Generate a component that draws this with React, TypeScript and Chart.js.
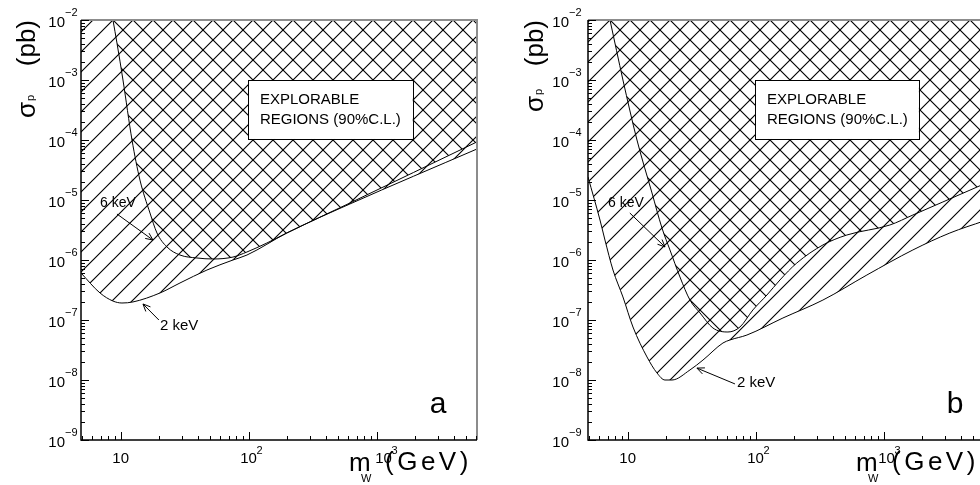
import React, { useEffect, useRef } from 'react';
import { Chart, registerables } from 'chart.js';

Chart.register(...registerables);

const FONT = '"Liberation Sans", Arial, sans-serif';

// ---- Panel a data (m_W in GeV, sigma_p in pb) ----
const massA6 = [8.71, 9.36, 10.43, 12.27, 14.16, 16.96, 19.23, 23.02, 29.1, 39.5, 52.7, 75.5, 97.1, 139, 199, 619, 6100];
const sigmaA6 = [1e-2, 4.14e-3, 1e-3, 1e-4, 2.15e-5, 6.07e-6, 2.82e-6, 1.65e-6, 1.21e-6, 1.08e-6, 1.04e-6, 1.12e-6, 1.36e-6, 1.92e-6, 2.82e-6, 8.9e-6, 9.3e-5];
const massA2 = [4.9, 6.9, 8.71, 10.24, 12.49, 20.3, 29.1, 47.3, 75.5, 97.1, 199, 619, 6100];
const sigmaA2 = [6.07e-7, 2.82e-7, 2.07e-7, 1.92e-7, 2.0e-7, 2.82e-7, 4.14e-7, 6.81e-7, 1.0e-6, 1.21e-6, 2.82e-6, 8.58e-6, 7.08e-5];

// ---- Panel b data ----
const massB6 = [7.28, 9.19, 11.83, 15.5, 18.55, 21.42, 25.64, 30.7, 36.8, 46.4, 60.8, 75.5, 95.3, 122.7, 155, 210, 336, 517, 1121, 1696, 2910, 6100];
const sigmaB6 = [1e-2, 1e-3, 1e-4, 1.31e-5, 3.41e-6, 1.47e-6, 5.21e-7, 2.15e-7, 1.31e-7, 7.36e-8, 6.31e-8, 7.64e-8, 1.47e-7, 2.61e-7, 4.64e-7, 8.91e-7, 1.78e-6, 2.61e-6, 3.83e-6, 5.62e-6, 9.27e-6, 1.85e-5];
const massB2 = [4.9, 6.08, 6.65, 7.68, 9.19, 11.01, 14.17, 16.96, 19.58, 22.2, 30.7, 38.8, 55.6, 63.0, 85.6, 163.6, 336, 741, 1696, 3300, 6100];
const sigmaB2 = [2.42e-5, 4.64e-6, 2.15e-6, 6.81e-7, 2.42e-7, 7.64e-8, 2.42e-8, 1.31e-8, 1.0e-8, 1.0e-8, 1.47e-8, 2.15e-8, 4.14e-8, 4.64e-8, 5.62e-8, 1.08e-7, 2.15e-7, 5.62e-7, 1.47e-6, 2.82e-6, 4.47e-6];

// ---- Axes ----
const X_MIN = 4.9;
const X_MAX = 6100;
const Y_MIN = 1e-9;
const Y_MAX = 1e-2;
const yTickExps = [-9, -8, -7, -6, -5, -4, -3, -2];
const xTickVals = [10, 100, 1000];
const xTickBase = ['10', '10', '10'];
const xTickExp = ['', '2', '3'];

const boxLines = ['EXPLORABLE', 'REGIONS (90%C.L.)'];
const label6 = '6 keV';
const label2 = '2 keV';

type P = [number, number];
type Panel = {
  m6: number[]; s6: number[]; m2: number[]; s2: number[];
  letter: string; letterAt: P;
  text6At: P; arrow6From: P; arrow6To: P;
  text2At: P; arrow2From: P; arrow2To: P;
  boxFrom: P; boxTo: P; boxText1: P; boxText2: P;
  hatchDx: number; labelGap: number; xLabelShift: number[];
  yTitleX: number; yTitleY: number; yTitleLen: number;
  canvasLeft: number; canvasWidth: number; yWidth: number; padRight: number;
};

const panelA: Panel = {
  m6: massA6, s6: sigmaA6, m2: massA2, s2: sigmaA2,
  letter: 'a', letterAt: [2610, 2.82e-9],
  text6At: [6.9, 7.64e-6], arrow6From: [9.36, 5.84e-6], arrow6To: [17.9, 2.15e-6],
  text2At: [20.3, 6.8e-8], arrow2From: [19.9, 1e-7], arrow2To: [14.95, 1.85e-7],
  boxFrom: [99, 1e-3], boxTo: [1920, 1.04e-4], boxText1: [122.7, 3.98e-4], boxText2: [122.7, 1.85e-4],
  hatchDx: 13, labelGap: 16, xLabelShift: [0, 0, 7],
  yTitleX: 35, yTitleY: 118, yTitleLen: 98,
  canvasLeft: 0, canvasWidth: 490, yWidth: 81, padRight: 13,
};

const panelB: Panel = {
  m6: massB6, s6: sigmaB6, m2: massB2, s2: sigmaB2,
  letter: 'b', letterAt: [3126, 2.82e-9],
  text6At: [7.02, 7.64e-6], arrow6From: [10.4, 6.07e-6], arrow6To: [19.6, 1.65e-6],
  text2At: [71.5, 7.6e-9], arrow2From: [69, 8.6e-9], arrow2To: [34.8, 1.58e-8],
  boxFrom: [99, 1e-3], boxTo: [1890, 1.04e-4], boxText1: [122.7, 3.98e-4], boxText2: [122.7, 1.85e-4],
  hatchDx: 0, labelGap: 19, xLabelShift: [0, 0, 3],
  yTitleX: 53, yTitleY: 112, yTitleLen: 92,
  canvasLeft: 490, canvasWidth: 510, yWidth: 98, padRight: 16,
};

function makePattern(ctx: CanvasRenderingContext2D, dir: '/' | '\\', dx: number) {
  const t = document.createElement('canvas');
  t.width = 20; t.height = 20;
  const c = t.getContext('2d')!;
  c.strokeStyle = '#000';
  c.lineWidth = 1.15;
  c.beginPath();
  for (const k of [-20, 0, 20]) {
    if (dir === '/') { c.moveTo(k - 2, 22); c.lineTo(k + 22, -2); }
    else { c.moveTo(k - 2, -2); c.lineTo(k + 22, 22); }
  }
  c.stroke();
  const p = ctx.createPattern(t, 'repeat')!;
  p.setTransform(new DOMMatrix([1, 0, 0, 1, dx, 0]));
  return p;
}

function arrow(ctx: CanvasRenderingContext2D, x1: number, y1: number, x2: number, y2: number) {
  ctx.beginPath();
  ctx.moveTo(x1, y1);
  ctx.lineTo(x2, y2);
  const a = Math.atan2(y2 - y1, x2 - x1);
  const L = 8, spread = 0.42;
  ctx.moveTo(x2 - L * Math.cos(a - spread), y2 - L * Math.sin(a - spread));
  ctx.lineTo(x2, y2);
  ctx.lineTo(x2 - L * Math.cos(a + spread), y2 - L * Math.sin(a + spread));
  ctx.stroke();
}

function overlayPlugin(panel: Panel) {
  return {
    id: 'overlay' + panel.letter,
    afterDraw(chart: any) {
      const { ctx, chartArea, scales } = chart;
      const { left, right, top, bottom } = chartArea;
      const x = scales.x, y = scales.y;
      const px = (v: number) => x.getPixelForValue(v);
      const py = (v: number) => y.getPixelForValue(v);
      ctx.save();

      // frame
      ctx.strokeStyle = '#8c8c8c';
      ctx.lineWidth = 2;
      ctx.beginPath();
      ctx.moveTo(left, top); ctx.lineTo(right, top); ctx.lineTo(right, bottom);
      ctx.stroke();
      ctx.strokeStyle = '#000';
      ctx.lineWidth = 1.5;
      ctx.beginPath();
      ctx.moveTo(left, top); ctx.lineTo(left, bottom); ctx.lineTo(right, bottom);
      ctx.stroke();

      // ticks
      ctx.lineWidth = 1;
      ctx.beginPath();
      for (let e = -9; e <= -2; e++) {
        for (let k = 1; k <= 9; k++) {
          const v = k * Math.pow(10, e);
          if (v > Y_MAX * 1.0001) continue;
          const yy = Math.round(py(v)) + 0.5;
          const len = k === 1 ? 8 : 4;
          ctx.moveTo(left, yy); ctx.lineTo(left + len, yy);
        }
      }
      for (let e = 0; e <= 3; e++) {
        for (let k = 1; k <= 9; k++) {
          const v = k * Math.pow(10, e);
          if (v < X_MIN || v > X_MAX) continue;
          const xx = Math.round(px(v)) + 0.5;
          const len = k === 1 ? 8 : 4;
          ctx.moveTo(xx, bottom); ctx.lineTo(xx, bottom - len);
        }
      }
      ctx.stroke();

      // tick labels
      ctx.fillStyle = '#000';
      ctx.textBaseline = 'alphabetic';
      for (const e of yTickExps) {
        const yy = py(Math.pow(10, e));
        ctx.font = `15px ${FONT}`;
        ctx.textAlign = 'right';
        ctx.fillText('10', left - panel.labelGap, yy + 7);
        ctx.font = `11px ${FONT}`;
        ctx.textAlign = 'left';
        ctx.fillText('\u2212' + Math.abs(e), left - panel.labelGap, yy - 4);
      }
      xTickVals.forEach((v, i) => {
        const xx = px(v) + panel.xLabelShift[i];
        ctx.font = `15px ${FONT}`;
        ctx.textAlign = 'center';
        ctx.fillText(xTickBase[i], xx, bottom + 23);
        if (xTickExp[i]) {
          ctx.font = `11px ${FONT}`;
          ctx.textAlign = 'left';
          ctx.fillText(xTickExp[i], xx + 8, bottom + 14);
        }
      });

      // x title
      ctx.font = `26px ${FONT}`;
      ctx.textAlign = 'left';
      ctx.letterSpacing = '3.5px';
      ctx.fillText('(GeV)', right - 92, bottom + 30);
      ctx.letterSpacing = '0px';
      ctx.fillText('m', right - 128, bottom + 31);
      ctx.font = `11px ${FONT}`;
      ctx.fillText('W', right - 116, bottom + 42);

      // y title
      ctx.save();
      ctx.translate(panel.yTitleX, panel.yTitleY);
      ctx.rotate(-Math.PI / 2);
      ctx.font = `26px ${FONT}`;
      ctx.textAlign = 'left';
      ctx.fillText('\u03c3', 0, 0);
      const ws = ctx.measureText('\u03c3').width;
      ctx.font = `11px ${FONT}`;
      ctx.fillText('p', ws + 1, -1);
      ctx.font = `26px ${FONT}`;
      ctx.textAlign = 'right';
      ctx.fillText('(pb)', panel.yTitleLen, 0);
      ctx.restore();

      // box
      const bx1 = px(panel.boxFrom[0]), by1 = py(panel.boxFrom[1]);
      const bx2 = px(panel.boxTo[0]), by2 = py(panel.boxTo[1]);
      ctx.fillStyle = '#fff';
      ctx.fillRect(bx1, by1, bx2 - bx1, by2 - by1);
      ctx.strokeStyle = '#000';
      ctx.lineWidth = 1;
      ctx.strokeRect(Math.round(bx1) + 0.5, Math.round(by1) + 0.5, Math.round(bx2 - bx1), Math.round(by2 - by1));
      ctx.fillStyle = '#000';
      ctx.font = `15px ${FONT}`;
      ctx.textAlign = 'left';
      ctx.fillText(boxLines[0], px(panel.boxText1[0]), py(panel.boxText1[1]));
      ctx.fillText(boxLines[1], px(panel.boxText2[0]), py(panel.boxText2[1]));

      // annotations
      ctx.font = `14px ${FONT}`;
      ctx.fillText(label6, px(panel.text6At[0]), py(panel.text6At[1]));
      ctx.font = `15px ${FONT}`;
      ctx.fillText(label2, px(panel.text2At[0]), py(panel.text2At[1]));
      ctx.lineWidth = 1;
      arrow(ctx, px(panel.arrow6From[0]), py(panel.arrow6From[1]), px(panel.arrow6To[0]), py(panel.arrow6To[1]));
      arrow(ctx, px(panel.arrow2From[0]), py(panel.arrow2From[1]), px(panel.arrow2To[0]), py(panel.arrow2To[1]));

      // panel letter
      ctx.font = `30px ${FONT}`;
      ctx.fillText(panel.letter, px(panel.letterAt[0]), py(panel.letterAt[1]));

      ctx.restore();
    },
  };
}

function PanelChart({ panel }: { panel: Panel }) {
  const ref = useRef<HTMLCanvasElement>(null);
  useEffect(() => {
    const canvas = ref.current!;
    const ctx = canvas.getContext('2d')!;
    const slash = makePattern(ctx, '/', panel.hatchDx);
    const back = makePattern(ctx, '\\', panel.hatchDx);
    const chart = new Chart(canvas, {
      type: 'line',
      data: {
        datasets: [
          {
            label: '2 keV',
            data: panel.m2.map((m, i) => ({ x: m, y: panel.s2[i] })),
            borderColor: '#000',
            borderWidth: 1,
            pointRadius: 0,
            fill: 'end',
            backgroundColor: slash as any,
            cubicInterpolationMode: 'monotone',
          },
          {
            label: '6 keV',
            data: panel.m6.map((m, i) => ({ x: m, y: panel.s6[i] })),
            borderColor: '#000',
            borderWidth: 1,
            pointRadius: 0,
            fill: 'end',
            backgroundColor: back as any,
            cubicInterpolationMode: 'monotone',
          },
        ],
      },
      options: {
        responsive: false,
        animation: false,
        events: [],
        layout: { padding: { top: 20, right: panel.padRight, left: 0, bottom: 0 } },
        plugins: { legend: { display: false }, tooltip: { enabled: false } },
        scales: {
          x: {
            type: 'logarithmic', min: X_MIN, max: X_MAX,
            ticks: { display: false }, grid: { display: false }, border: { display: false },
            afterFit: (s: any) => { s.height = 45; },
          },
          y: {
            type: 'logarithmic', min: Y_MIN, max: Y_MAX,
            ticks: { display: false }, grid: { display: false }, border: { display: false },
            afterFit: (s: any) => { s.width = panel.yWidth; },
          },
        },
      } as any,
      plugins: [overlayPlugin(panel)],
    });
    return () => chart.destroy();
  }, [panel]);
  return (
    <canvas
      ref={ref}
      width={panel.canvasWidth}
      height={485}
      style={{ position: 'absolute', left: panel.canvasLeft, top: 0, width: panel.canvasWidth, height: 485 }}
    />
  );
}

export default function App() {
  return (
    <div style={{ position: 'fixed', left: 0, top: 0, width: 980, height: 485, overflow: 'hidden', background: '#fff' }}>
      <PanelChart panel={panelA} />
      <PanelChart panel={panelB} />
    </div>
  );
}
